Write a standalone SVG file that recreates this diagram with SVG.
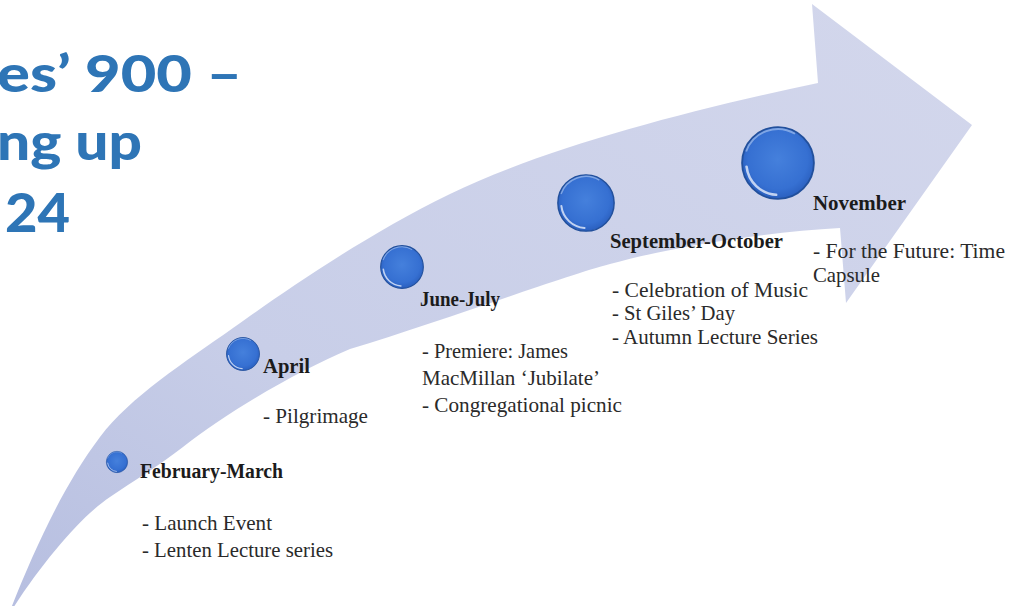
<svg xmlns="http://www.w3.org/2000/svg" xmlns:xlink="http://www.w3.org/1999/xlink" width="1015" height="606" viewBox="0 0 1015 606">
  <defs>
    <style>
      .title { font-family: "Lato", "Open Sans", "Liberation Sans", sans-serif; font-weight: 900; fill: #2e75b6; }
      .label { font-family: "Liberation Serif", "DejaVu Serif", serif; font-weight: 700; font-size: 20px; fill: #1b1b1b; }
      .item { font-family: "Liberation Serif", "DejaVu Serif", serif; font-size: 21px; fill: #2a2a2a; }
    </style>
    <linearGradient id="bandFill" x1="0" y1="1" x2="1" y2="0">
      <stop offset="0" stop-color="#b6bee0"/>
      <stop offset="0.35" stop-color="#c8cee8"/>
      <stop offset="1" stop-color="#d3d7ec"/>
    </linearGradient>
    <radialGradient id="ballFill" cx="0.5" cy="0.45" r="0.55">
      <stop offset="0" stop-color="#4580dc"/>
      <stop offset="0.75" stop-color="#3670d2"/>
      <stop offset="1" stop-color="#2a5fbf"/>
    </radialGradient>
    <!-- glossy sphere used as the timeline marker -->
    <symbol id="ball" viewBox="-1 -1 2 2" overflow="visible">
      <circle r="0.97" fill="url(#ballFill)" stroke="#22509c" stroke-width="0.05"/>
      <!-- soft rim light along the top -->
      <path d="M -0.86 -0.31 A 0.91 0.91 0 0 1 0.46 -0.79" fill="none" stroke="#bcd3f5" stroke-width="0.05" opacity="0.55"/>
      <!-- reflection along the lower left -->
      <path d="M -0.05 0.86 A 0.86 0.86 0 0 1 -0.85 0.1" fill="none" stroke="#f1f6ff" stroke-width="0.07" stroke-linecap="round" opacity="0.75"/>
    </symbol>
  </defs>

  <rect width="1015" height="606" fill="#ffffff"/>

  <!-- heading -->
  <g id="heading">
    <text class="title" x="-3" y="92" font-size="52" textLength="245" lengthAdjust="spacingAndGlyphs">es’ 900 –</text>
    <text class="title" x="-3" y="160" font-size="52" textLength="145" lengthAdjust="spacingAndGlyphs">ng up</text>
    <text class="title" x="5" y="232" font-size="54" textLength="65" lengthAdjust="spacingAndGlyphs">24</text>
  </g>

  <!-- curved timeline arrow -->
  <g id="connectors">
    <path id="timeline-arrow" fill="url(#bandFill)"
      d="M 8,616
         C 30,560 60,490 100,437
         C 130,397 185,362 233,328
         C 281,294 360,238 450,194
         C 540,150 680,112 818,83
         L 812,4 L 972,125 L 846,303 L 840,228
         C 770,232 680,245 610,264
         C 561,277 440,322 350,349
         C 300,370 230,410 183,447
         C 160,465 135,480 110,497
         C 80,517 40,565 8,616 Z"/>
  </g>

  <g id="node-february-march">
    <use xlink:href="#ball" x="106" y="451" width="22" height="22"/>
    <text class="label" x="140" y="478" textLength="143" lengthAdjust="spacingAndGlyphs">February-March</text>
    <text class="item" x="142" y="530" textLength="130" lengthAdjust="spacingAndGlyphs">- Launch Event</text>
    <text class="item" x="142" y="557" textLength="191" lengthAdjust="spacingAndGlyphs">- Lenten Lecture series</text>
  </g>

  <g id="node-april">
    <use xlink:href="#ball" x="226" y="337" width="34" height="34"/>
    <text class="label" x="263" y="373" textLength="47" lengthAdjust="spacingAndGlyphs">April</text>
    <text class="item" x="263" y="423" textLength="105" lengthAdjust="spacingAndGlyphs">- Pilgrimage</text>
  </g>

  <g id="node-june-july">
    <use xlink:href="#ball" x="380" y="245" width="44" height="44"/>
    <text class="label" x="420" y="306" textLength="80" lengthAdjust="spacingAndGlyphs">June-July</text>
    <text class="item" x="422" y="358" textLength="146" lengthAdjust="spacingAndGlyphs">- Premiere: James</text>
    <text class="item" x="422" y="385" textLength="178" lengthAdjust="spacingAndGlyphs">MacMillan ‘Jubilate’</text>
    <text class="item" x="422" y="412" textLength="200" lengthAdjust="spacingAndGlyphs">- Congregational picnic</text>
  </g>

  <g id="node-september-october">
    <use xlink:href="#ball" x="557" y="174" width="58" height="58"/>
    <text class="label" x="610" y="248" textLength="173" lengthAdjust="spacingAndGlyphs">September-October</text>
    <text class="item" x="612" y="297" textLength="196" lengthAdjust="spacingAndGlyphs">- Celebration of Music</text>
    <text class="item" x="612" y="320" textLength="123" lengthAdjust="spacingAndGlyphs">- St Giles’ Day</text>
    <text class="item" x="612" y="344" textLength="206" lengthAdjust="spacingAndGlyphs">- Autumn Lecture Series</text>
  </g>

  <g id="node-november">
    <use xlink:href="#ball" x="741" y="126" width="74" height="74"/>
    <text class="label" x="813" y="210" textLength="93" lengthAdjust="spacingAndGlyphs">November</text>
    <text class="item" x="813" y="258" textLength="192" lengthAdjust="spacingAndGlyphs">- For the Future: Time</text>
    <text class="item" x="813" y="282" textLength="67" lengthAdjust="spacingAndGlyphs">Capsule</text>
  </g>
</svg>
